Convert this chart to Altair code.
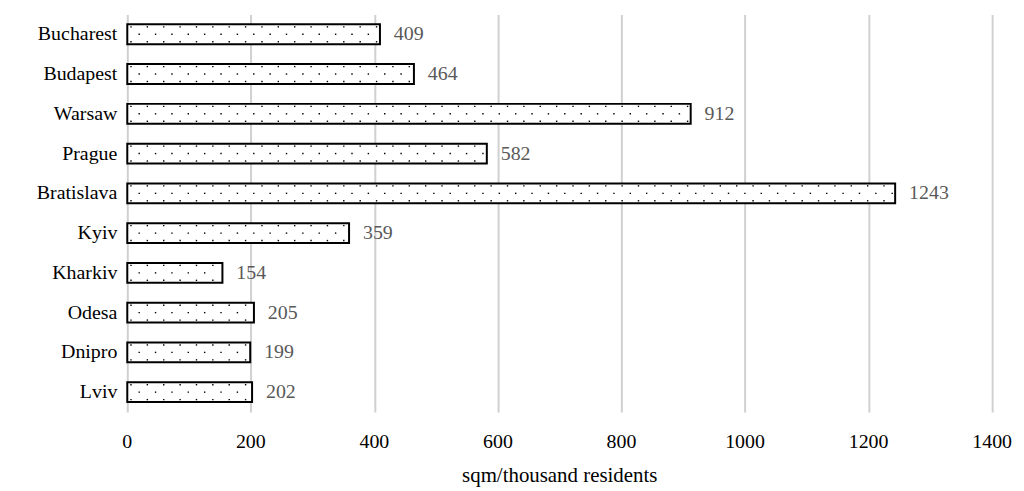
import altair as alt
import pandas as pd
import numpy as np

cities = ["Bucharest", "Budapest", "Warsaw", "Prague", "Bratislava",
          "Kyiv", "Kharkiv", "Odesa", "Dnipro", "Lviv"]
values = [409, 464, 912, 582, 1243, 359, 154, 205, 199, 202]
tick_values = [0, 200, 400, 600, 800, 1000, 1200, 1400]
x_title = "sqm/thousand residents"

df = pd.DataFrame({"city": cities, "value": values})
ticks_df = pd.DataFrame({"t": tick_values})
title_df = pd.DataFrame({"title": [x_title]})

# dotted texture inside bars (decoration)
dot_step = 26.5
offsets = [-7.5, 0, 7.5]
rows = []
for c, v in zip(cities, values):
    for r in range(3):
        start = 6 if r != 1 else 6 + dot_step / 2
        for xv in np.arange(start, v - 4, dot_step):
            rows.append({"city": c, "x": float(xv), "row": r})
dots = pd.DataFrame(rows)

font = "Liberation Serif, Times New Roman, serif"
fs = 20

xscale = alt.Scale(domain=[0, 1400], nice=False)
yscale = alt.Scale(paddingInner=0.5, paddingOuter=0.25)

xaxis = alt.Axis(values=tick_values, labels=False, ticks=False, domain=False,
                 title=None, grid=True, gridColor="#d0d0d0", gridWidth=2)

bars = alt.Chart(df).mark_bar(fill="white", stroke="black", strokeWidth=2).encode(
    x=alt.X("value:Q", scale=xscale, axis=xaxis),
    y=alt.Y("city:N", sort=cities, scale=yscale, axis=None),
)

dot_layers = []
for r, off in enumerate(offsets):
    dot_layers.append(
        alt.Chart(dots[dots.row == r]).mark_square(size=2, color="black", opacity=1,
                                                    yOffset=off).encode(
            x=alt.X("x:Q", scale=xscale, axis=xaxis),
            y=alt.Y("city:N", sort=cities, axis=None),
        )
    )

value_labels = alt.Chart(df).mark_text(align="left", baseline="middle", dx=14,
                                       font=font, fontSize=fs, color="#595959").encode(
    x=alt.X("value:Q", scale=xscale, axis=xaxis),
    y=alt.Y("city:N", sort=cities, axis=None),
    text="value:Q",
)

city_labels = alt.Chart(df).mark_text(align="right", baseline="middle", font=font,
                                      fontSize=fs, color="black").encode(
    x=alt.value(-10),
    y=alt.Y("city:N", sort=cities, axis=None),
    text="city:N",
)

tick_labels = alt.Chart(ticks_df).mark_text(align="center", baseline="middle",
                                            font=font, fontSize=fs, color="black").encode(
    x=alt.X("t:Q", scale=xscale, axis=xaxis),
    y=alt.value(430),
    text="t:Q",
)

title = alt.Chart(title_df).mark_text(align="center", baseline="middle", font=font,
                                      fontSize=fs + 1, color="black").encode(
    x=alt.value(435),
    y=alt.value(464),
    text="title:N",
)

chart = alt.layer(bars, *dot_layers, value_labels, city_labels, tick_labels,
                  title).properties(
    width=870, height=400,
    padding={"left": 120, "top": 5, "right": 24, "bottom": 80},
    autosize=alt.AutoSizeParams(type="none"),
    background="white",
).configure_view(stroke=None)

chart.save("out.html", embed_options={"renderer": "svg", "actions": False})
